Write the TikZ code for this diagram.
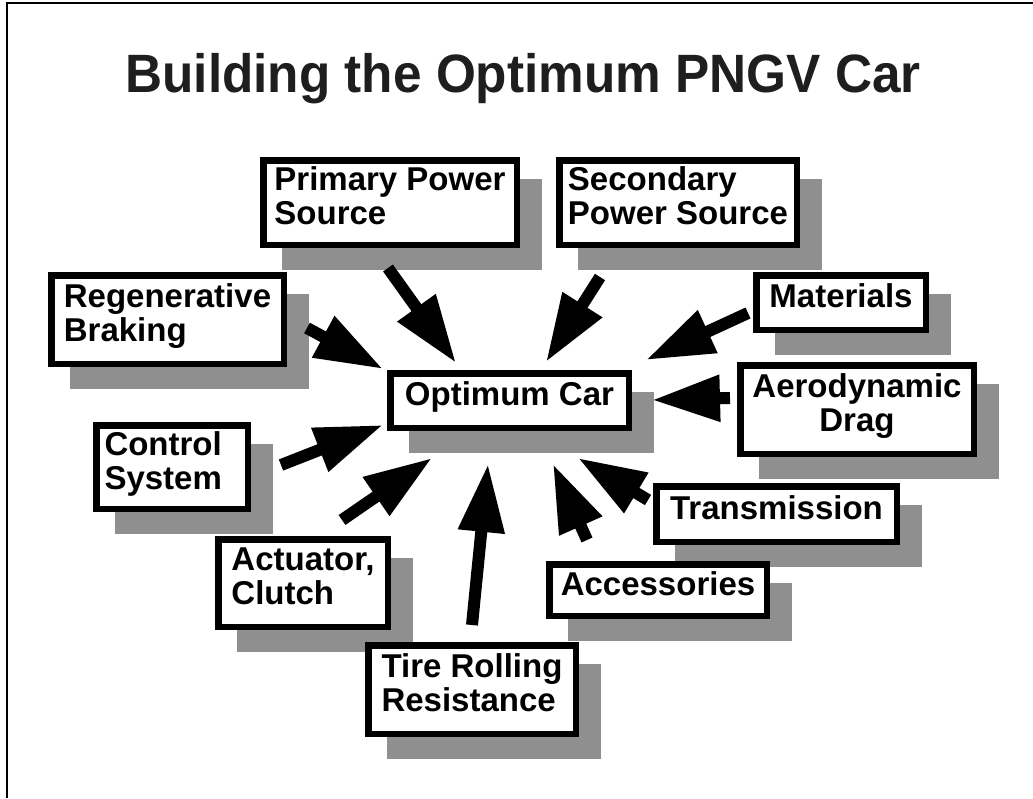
\documentclass[tikz,border=0pt]{standalone}
\usepackage{fontspec}
\setmainfont{Liberation Sans}
\usetikzlibrary{arrows.meta}
\definecolor{shade}{HTML}{8F8F8F}
\definecolor{ink}{HTML}{1E1E1E}

\begin{document}
\begin{tikzpicture}[x=1pt,y=-1pt,->,>={Triangle[length=68pt,width=44pt]},line width=12pt]
    \tikzstyle{box}=[draw=black,fill=white,line width=6.5pt,inner sep=0pt,align=left,
        font=\fontsize{33}{34}\selectfont\bfseries,
        execute at end node={\vrule width 0pt depth 13pt},
        preaction={draw=shade,fill=shade,transform canvas={shift={(22pt,-22pt)}}}]
    \useasboundingbox (0,0) rectangle (1033,798);
    \draw[-,line width=2.5pt] (7,798) -- (7,3) -- (1033,3);
    \node[anchor=base,text=ink,font=\fontsize{54}{60}\selectfont\bfseries] (t) at (523,92)
        {\scalebox{0.95}[1]{Building the Optimum PNGV Car}};
    \node[box,minimum width=253.5pt,minimum height=84.5pt]  (2) at (390,202.5)   {Primary Power\\Source};
    \node[box,minimum width=237.5pt,minimum height=84.5pt]  (3) at (678,202.5)   {Secondary\\Power Source};
    \node[box,minimum width=232.5pt,minimum height=88.5pt]  (4) at (167.5,319.5) {Regenerative\\Braking};
    \node[box,minimum width=169.5pt,minimum height=54.5pt]  (5) at (841,302.5)   {Materials};
    \node[box,minimum width=238.5pt,minimum height=54.5pt]  (1) at (509.5,400.5) {Optimum Car};
    \node[box,align=center,minimum width=233.5pt,minimum height=88.5pt] (6) at (857,409.5) {Aerodynamic\\Drag};
    \node[box,text width=135pt,minimum width=151.5pt,minimum height=83.5pt] (7) at (172,467) {Control\\System};
    \node[box,minimum width=240.5pt,minimum height=55.5pt]  (8) at (776.5,514)   {Transmission};
    \node[box,minimum width=169.5pt,minimum height=87.5pt]  (9) at (303,583)     {Actuator,\\Clutch};
    \node[box,minimum width=217.5pt,minimum height=51.5pt]  (10) at (658,590)    {Accessories};
    \node[box,minimum width=207.5pt,minimum height=88.5pt]  (11) at (472,689.5)  {Tire Rolling\\Resistance};
    \path ([shift={(-2,65.5)}]2.center)    edge ([shift={(-53.5,-37.5)}]1.center)
          ([shift={(-78,74.5)}]3.center)   edge ([shift={(36.5,-38.5)}]1.center)
          ([shift={(139.5,8.5)}]4.center)  edge ([shift={(-126.5,-31.5)}]1.center)
          ([shift={(-93,10.5)}]5.center)   edge ([shift={(136.5,-40.5)}]1.center)
          ([shift={(-127,-11.5)}]6.center) edge ([shift={(142.5,-0.5)}]1.center)
          ([shift={(109,-2)}]7.center)     edge ([shift={(-126.5,24.5)}]1.center)
          ([shift={(39,-63)}]9.center)     edge ([shift={(-77.5,57.5)}]1.center)
          ([shift={(0,-64.5)}]11.center)   edge ([shift={(-21.5,63.5)}]1.center)
          ([shift={(-71,-50)}]10.center)   edge ([shift={(43.5,63.5)}]1.center)
          ([shift={(-128.5,-14)}]8.center) edge ([shift={(68.5,57.5)}]1.center);
\end{tikzpicture}
\end{document}
